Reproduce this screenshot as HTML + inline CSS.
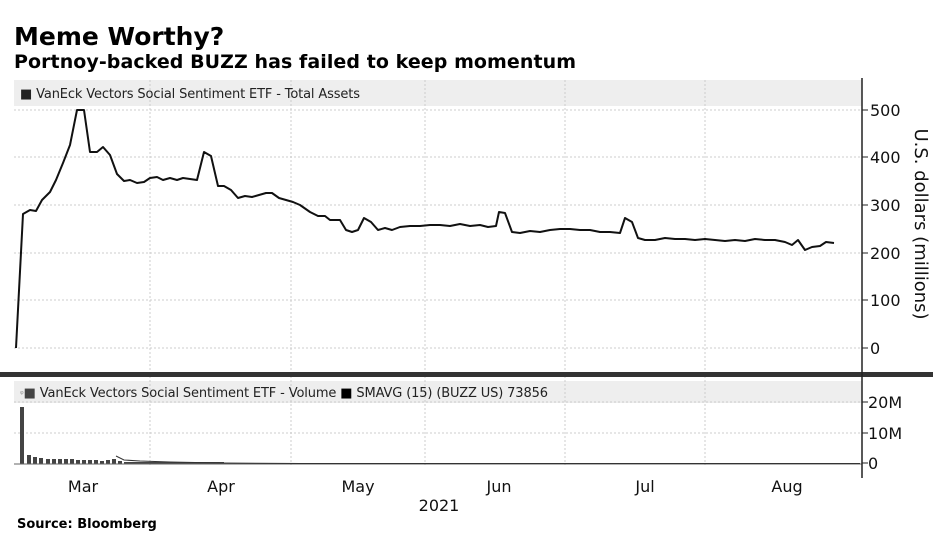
<!DOCTYPE html>
<html><head><style>
body{margin:0;background:#fff;width:945px;height:551px;overflow:hidden;font-family:"DejaVu Sans","Liberation Sans",sans-serif}
</style></head><body>
<svg width="945" height="551" xmlns="http://www.w3.org/2000/svg" font-family="DejaVu Sans, Liberation Sans, sans-serif">
<text x="14" y="45" font-size="25" font-weight="bold" fill="#000">Meme Worthy?</text>
<text x="14" y="68" font-size="19" font-weight="bold" fill="#000" textLength="562">Portnoy-backed BUZZ has failed to keep momentum</text>
<rect x="14" y="80" width="848" height="26" fill="#eeeeee"/>
<rect x="14" y="381" width="848" height="22" fill="#eeeeee"/>
<g stroke="#ccc" stroke-dasharray="2,2" stroke-width="1">
<line x1="14" x2="862" y1="110" y2="110"/><line x1="14" x2="862" y1="157" y2="157"/><line x1="14" x2="862" y1="205" y2="205"/><line x1="14" x2="862" y1="253" y2="253"/><line x1="14" x2="862" y1="300" y2="300"/><line x1="14" x2="862" y1="348" y2="348"/>
<line x1="14" x2="862" y1="402" y2="402"/><line x1="14" x2="862" y1="433" y2="433"/>
<line x1="150" x2="150" y1="80" y2="465"/><line x1="291" x2="291" y1="80" y2="465"/><line x1="425" x2="425" y1="80" y2="465"/><line x1="565" x2="565" y1="80" y2="465"/><line x1="705" x2="705" y1="80" y2="465"/>
</g>
<text x="20" y="98" font-size="13" fill="#222" textLength="340">■ VanEck Vectors Social Sentiment ETF - Total Assets</text>
<text x="20" y="397" font-size="13" fill="#222" textLength="528"><tspan fill="#999" font-size="9">ᵠ</tspan><tspan fill="#444">■</tspan> VanEck Vectors Social Sentiment ETF - Volume   <tspan fill="#000">■</tspan> SMAVG (15) (BUZZ US) 73856</text>
<polyline fill="none" stroke="#111" stroke-width="2" stroke-linejoin="round" points="16,348 23,214 30,210 36,211 42,200 50,192 56,180 63,163 70,145 77,110 84,110 90,152 97,152 103,147 110,155 117,174 124,181 130,180 137,183 144,182 150,178 157,177 163,180 170,178 177,180 183,178 190,179 197,180 204,152 211,156 218,186 224,186 231,190 238,198 245,196 252,197 259,195 266,193 272,193 279,198 286,200 293,202 300,205 310,212 318,216 325,216 330,220 340,220 346,230 352,232 358,230 364,218 371,222 378,230 385,228 392,230 400,227 410,226 420,226 430,225 440,225 450,226 460,224 470,226 480,225 488,227 496,226 499,212 505,213 512,232 520,233 530,231 540,232 550,230 560,229 570,229 580,230 590,230 600,232 610,232 620,233 625,218 632,222 638,238 645,240 655,240 665,238 675,239 685,239 695,240 705,239 715,240 725,241 735,240 745,241 755,239 765,240 775,240 785,242 792,245 798,240 805,250 812,247 820,246 826,242 834,243"/>
<rect x="0" y="372" width="933" height="5" fill="#333"/>
<g fill="#444">
<rect x="20" y="407" width="4" height="57"/>
<rect x="27" y="455" width="4" height="9"/><rect x="33" y="457" width="4" height="7"/><rect x="39" y="458" width="4" height="6"/><rect x="46" y="459" width="4" height="5"/><rect x="52" y="459" width="4" height="5"/><rect x="58" y="459" width="4" height="5"/><rect x="64" y="459" width="4" height="5"/><rect x="70" y="459" width="4" height="5"/><rect x="76" y="460" width="4" height="4"/><rect x="82" y="460" width="4" height="4"/><rect x="88" y="460" width="4" height="4"/><rect x="94" y="460" width="4" height="4"/><rect x="100" y="461" width="4" height="3"/><rect x="106" y="460" width="4" height="4"/><rect x="112" y="459" width="4" height="5"/><rect x="118" y="461" width="4" height="3"/>
<rect x="124" y="462" width="100" height="2"/>
</g>
<line x1="14" x2="862" y1="464" y2="464" stroke="#666" stroke-width="1"/>
<polyline fill="none" stroke="#333" stroke-width="1" points="116,456 124,460 140,461 170,462 220,463 300,463.5 860,463.5"/>
<line x1="862" x2="862" y1="78" y2="478" stroke="#222" stroke-width="1.5"/>
<g stroke="#222" stroke-width="1">
<line x1="862" x2="868" y1="110" y2="110"/><line x1="862" x2="868" y1="157" y2="157"/><line x1="862" x2="868" y1="205" y2="205"/><line x1="862" x2="868" y1="253" y2="253"/><line x1="862" x2="868" y1="300" y2="300"/><line x1="862" x2="868" y1="348" y2="348"/>
<line x1="862" x2="868" y1="402" y2="402"/><line x1="862" x2="868" y1="433" y2="433"/><line x1="862" x2="868" y1="463" y2="463"/>
</g>
<g font-size="16" fill="#111">
<text x="870" y="116">500</text><text x="870" y="163">400</text><text x="870" y="211">300</text><text x="870" y="259">200</text><text x="870" y="306">100</text><text x="870" y="354">0</text>
<text x="868" y="408">20M</text><text x="868" y="439">10M</text><text x="868" y="469">0</text>
</g>
<text transform="translate(915,224) rotate(90)" font-size="18" fill="#111" text-anchor="middle">U.S. dollars (millions)</text>
<g font-size="16" fill="#111" text-anchor="middle">
<text x="83" y="492">Mar</text><text x="221" y="492">Apr</text><text x="358" y="492">May</text><text x="499" y="492">Jun</text><text x="645" y="492">Jul</text><text x="787" y="492">Aug</text>
<text x="439" y="511">2021</text>
</g>
<text x="17" y="528" font-size="13" font-weight="bold" fill="#000">Source: Bloomberg</text>
</svg>
</body></html>
